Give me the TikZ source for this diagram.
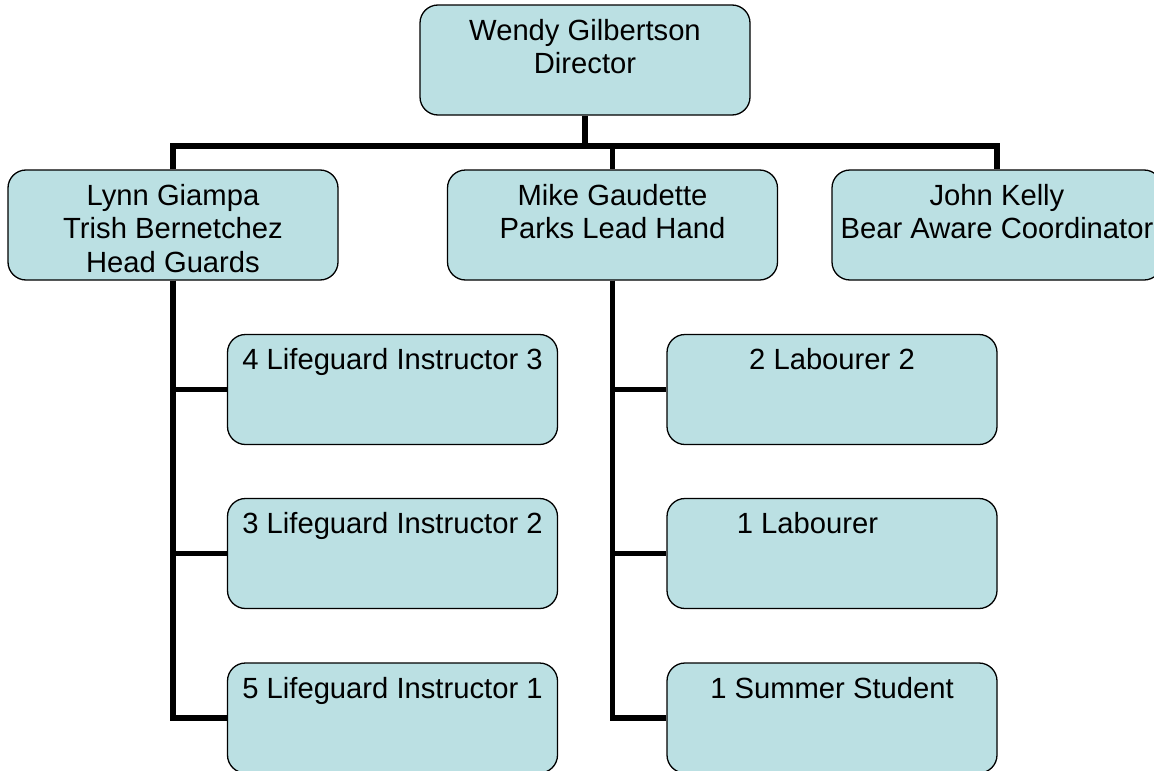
\documentclass[tikz,border=0pt]{standalone}
\usepackage{fontspec}
\setmainfont{Liberation Sans}
\definecolor{boxfill}{HTML}{BBE0E3}
\newcommand{\bxt}[1]{\parbox[c][110pt][t]{330pt}{\centering\rule{0pt}{35pt}#1}}
\begin{document}
\begin{tikzpicture}[x=1pt,y=-1pt,
  box/.style={draw=black, line width=1.3pt, fill=boxfill, rounded corners=18pt,
    inner sep=0pt, font=\fontsize{29.2}{33.5}\selectfont},
  conn/.style={line width=5.5pt, line join=miter, draw=black}]
\useasboundingbox (0,0) rectangle (1154,771);
\clip (0,0) rectangle (1154,771);
\fill[white] (0,0) rectangle (1154,771);
\coordinate (bus) at (585,146);
\node[box] (top) at (585,60) {\bxt{Wendy Gilbertson\\Director}};
\node[box] (lynn) at (173,225) {\bxt{Lynn Giampa\\Trish Bernetchez\\Head Guards}};
\node[box] (mike) at (612.5,225) {\bxt{Mike Gaudette\\Parks Lead Hand}};
\node[box] (john) at (997,225) {\bxt{John Kelly\\Bear Aware Coordinator}};
\node[box] (l1) at (392.5,389.5) {\bxt{4 Lifeguard Instructor 3}};
\node[box] (l2) at (392.5,553.5) {\bxt{3 Lifeguard Instructor 2}};
\node[box] (l3) at (392.5,718) {\bxt{5 Lifeguard Instructor 1}};
\node[box] (r1) at (832,389.5) {\bxt{2 Labourer 2}};
\node[box] (r2) at (832,553.5) {\bxt{1 Labourer\hspace*{49pt}}};
\node[box] (r3) at (832,718) {\bxt{1 Summer Student}};
\draw[conn] (top.south) -- (top.south |- bus);
\draw[conn] (lynn.north) -- (lynn.north |- bus) -- (john.north |- bus) -- (john.north);
\draw[conn] (mike.north |- bus) -- (mike.north);
\draw[conn] (lynn.south) |- (l1.west);
\draw[conn] (lynn.south) |- (l2.west);
\draw[conn] (lynn.south) |- (l3.west);
\draw[conn] (mike.south) |- (r1.west);
\draw[conn] (mike.south) |- (r2.west);
\draw[conn] (mike.south) |- (r3.west);
\end{tikzpicture}
\end{document}
